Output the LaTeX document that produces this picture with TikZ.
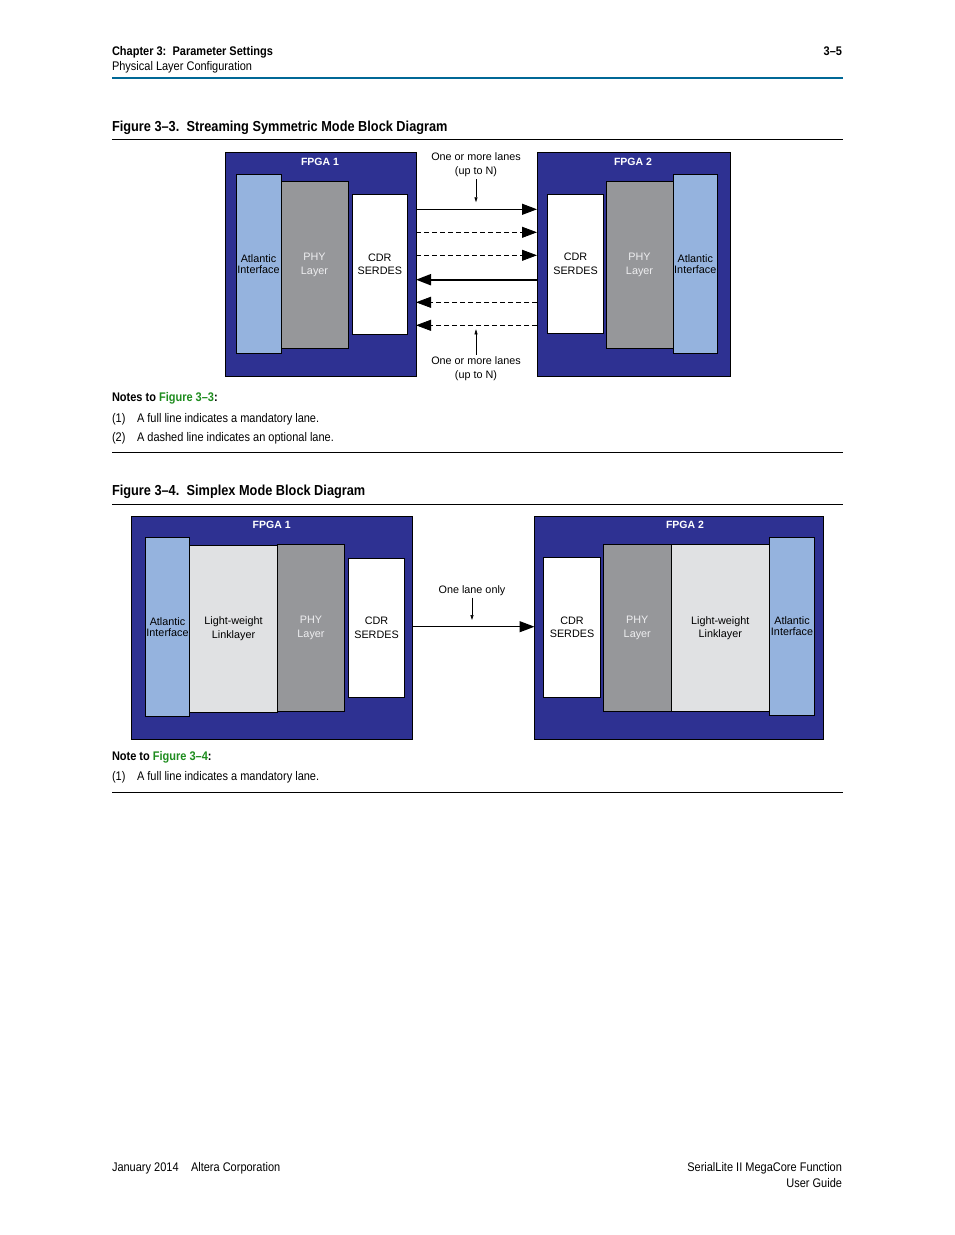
\documentclass[tikz,border=0pt]{standalone}
\usepackage{fontspec}
\setmainfont{Liberation Sans}
\newfontfamily\pagefont[FakeStretch=0.88, Ligatures=TeX]{Liberation Sans}
\usetikzlibrary{arrows.meta}

\begin{document}
\begin{tikzpicture}[x=1pt, y=-1pt,
    every node/.style={font=\fontsize{10.8}{13.5}\selectfont, inner sep=0pt, outer sep=0pt},
    pagetext/.style={anchor=base west, font=\pagefont\fontsize{12.5}{15}\selectfont},
    pagehead/.style={anchor=base west, font=\pagefont\bfseries\fontsize{12.5}{15}\selectfont},
    figtitle/.style={anchor=base west, font=\pagefont\bfseries\fontsize{14.5}{17}\selectfont},
    fpga/.style={draw=black, fill=fpgablue, line width=0.8pt, anchor=north west},
    fpgatitle/.style={text=white, font=\bfseries\fontsize{10.5}{12}\selectfont},
    layer/.style={draw=black, line width=0.8pt, anchor=north west, align=center},
    atl/.style={fill=atlblue, font=\fontsize{10.8}{11.2}\selectfont},
    phy/.style={fill=phygray, text=phytext},
    lwl/.style={fill=lwlgray},
    cdr/.style={fill=white},
    lanelabel/.style={align=center, inner sep=2pt, font=\fontsize{10.8}{14}\selectfont},
    lane/.style={line width=1.2pt, -{Triangle[length=15pt, width=11pt]}},
    optlane/.style={lane, line width=0.8pt, dash pattern=on 5pt off 3pt},
    pointer/.style={line width=0.6pt, -{Triangle[length=5pt, width=3pt]}},
    rule/.style={line width=0.8pt}]
    \definecolor{fpgablue}{RGB}{46,49,146}
    \definecolor{atlblue}{RGB}{149,179,222}
    \definecolor{phygray}{RGB}{150,151,154}
    \definecolor{phytext}{RGB}{238,238,240}
    \definecolor{lwlgray}{RGB}{224,225,227}
    \definecolor{headblue}{RGB}{0,104,150}
    \definecolor{figgreen}{RGB}{30,140,30}

    \fill[white] (0,0) rectangle (954,1235);
    \useasboundingbox (0,0) rectangle (954,1235);

    \newcommand{\layerblock}[7]{%
        \node[layer, #6, minimum width={(#4-#2)*1pt}, minimum height={(#5-#3)*1pt}] (#1) at (#2,#3) {#7};
    }
    \newcommand{\fpgablock}[5]{%
        \node[fpga, minimum width={(#4-#2)*1pt}, minimum height={(#5-#3)*1pt}] (#1) at (#2,#3) {};
    }

    % Page header.
    \node[pagehead] (chap) at (112,55) {Chapter 3:\hspace{0.5em}Parameter Settings};
    \node[pagetext] (sect) at (112,70.5) {Physical Layer Configuration};
    \node[pagehead, anchor=base east] (pgno) at (842,55) {3\textendash5};
    \draw[headblue, line width=2pt] (112,78) -- (843,78);

    % Figure 3-3.
    \node[figtitle] (titleA) at (112,131) {Figure 3\textendash3.\hspace{0.5em}Streaming Symmetric Mode Block Diagram};
    \draw[rule] (112,139.5) -- (843,139.5);

    \fpgablock{fpgaA}{225}{152.5}{416}{376}
    \node[fpgatitle] (fpgaAname) at (320,162) {FPGA 1};
    \layerblock{atlA}{236}{174.5}{281}{353.5}{atl}{Atlantic\\Interface}
    \layerblock{phyA}{281}{181}{348}{348.5}{phy}{PHY\\Layer}
    \layerblock{cdrA}{352}{194.5}{407.5}{334.5}{cdr}{CDR\\SERDES}

    \fpgablock{fpgaB}{537}{152.5}{730}{376}
    \node[fpgatitle] (fpgaBname) at (633,162) {FPGA 2};
    \layerblock{cdrB}{547.5}{194.5}{603.5}{333.5}{cdr}{CDR\\SERDES}
    \layerblock{phyB}{606}{181}{673}{348.5}{phy}{PHY\\Layer}
    \layerblock{atlB}{673}{174.5}{717.5}{353.5}{atl}{Atlantic\\Interface}

    % Lanes between the two FPGAs.
    \draw[lane] (fpgaA.east |- 0,209.3) -- (fpgaB.west |- 0,209.3);
    \draw[optlane] (fpgaA.east |- 0,232.3) -- (fpgaB.west |- 0,232.3);
    \draw[optlane] (fpgaA.east |- 0,255.3) -- (fpgaB.west |- 0,255.3);
    \draw[lane, line width=2pt] (fpgaB.west |- 0,279.7) -- (fpgaA.east |- 0,279.7);
    \draw[optlane] (fpgaB.west |- 0,302.3) -- (fpgaA.east |- 0,302.3);
    \draw[optlane] (fpgaB.west |- 0,325.3) -- (fpgaA.east |- 0,325.3);

    \node[lanelabel] (lanesTop) at (476,165) {One or more lanes\\(up to N)};
    \coordinate (lanesTopTip) at (476,202.3);
    \draw[pointer] (lanesTop) -- (lanesTopTip);
    \node[lanelabel] (lanesBot) at (476,369) {One or more lanes\\(up to N)};
    \coordinate (lanesBotTip) at (476,329.3);
    \draw[pointer] (lanesBot) -- (lanesBotTip);

    % Notes to figure 3-3.
    \node[pagehead] (notesA) at (112,401.5) {Notes to \textcolor{figgreen}{Figure 3\textendash3}:};
    \node[pagetext] (notesA1) at (112,422.5) {(1)};
    \node[pagetext] (notesA1txt) at (137,422.5) {A full line indicates a mandatory lane.};
    \node[pagetext] (notesA2) at (112,441.5) {(2)};
    \node[pagetext] (notesA2txt) at (137,441.5) {A dashed line indicates an optional lane.};
    \draw[rule] (112,452.5) -- (843,452.5);

    % Figure 3-4.
    \node[figtitle] (titleB) at (112,495) {Figure 3\textendash4.\hspace{0.5em}Simplex Mode Block Diagram};
    \draw[rule] (112,504.5) -- (843,504.5);

    \fpgablock{fpgaC}{131.5}{516.5}{412.5}{739.5}
    \node[fpgatitle] (fpgaCname) at (271.7,525) {FPGA 1};
    \layerblock{atlC}{145.5}{537.5}{189.5}{716}{atl}{Atlantic\\Interface}
    \layerblock{lwlC}{189.5}{545}{277.5}{712}{lwl}{Light-weight\\Linklayer}
    \layerblock{phyC}{277.5}{544}{344.5}{711.5}{phy}{PHY\\Layer}
    \layerblock{cdrC}{348.5}{558.5}{404.5}{697}{cdr}{CDR\\SERDES}

    \fpgablock{fpgaD}{534.5}{516.5}{823.5}{739.5}
    \node[fpgatitle] (fpgaDname) at (685,525) {FPGA 2};
    \layerblock{cdrD}{543.5}{557.5}{600.5}{697}{cdr}{CDR\\SERDES}
    \layerblock{phyD}{603.5}{544.5}{671}{711.5}{phy}{PHY\\Layer}
    \layerblock{lwlD}{671}{544.5}{769.5}{711.5}{lwl}{Light-weight\\Linklayer}
    \layerblock{atlD}{769.5}{537.5}{814.5}{715.5}{atl}{Atlantic\\Interface}

    \draw[lane] (fpgaC.east |- 0,626.7) -- (fpgaD.west |- 0,626.7);
    \node[lanelabel] (oneLane) at (472,590.5) {One lane only};
    \coordinate (oneLaneTip) at (472,620);
    \draw[pointer] (oneLane) -- (oneLaneTip);

    % Note to figure 3-4.
    \node[pagehead] (notesB) at (112,760.5) {Note to \textcolor{figgreen}{Figure 3\textendash4}:};
    \node[pagetext] (notesB1) at (112,780.5) {(1)};
    \node[pagetext] (notesB1txt) at (137,780.5) {A full line indicates a mandatory lane.};
    \draw[rule] (112,792.5) -- (843,792.5);

    % Page footer.
    \node[pagetext] (date) at (112,1171.5) {January 2014};
    \node[pagetext] (corp) at (191,1171.5) {Altera Corporation};
    \node[pagetext, anchor=base east] (guideA) at (842,1171.5) {SerialLite II MegaCore Function};
    \node[pagetext, anchor=base east] (guideB) at (842,1187.5) {User Guide};
\end{tikzpicture}
\end{document}
